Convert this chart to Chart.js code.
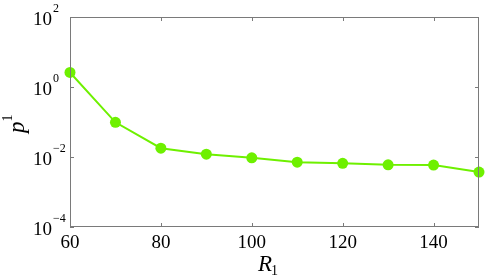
<!DOCTYPE html>
<html>
<head>
<meta charset="utf-8">
<script src="https://cdn.jsdelivr.net/npm/chart.js@4/dist/chart.umd.min.js"></script>
<style>
  html, body { margin: 0; padding: 0; background: #fff; }
  #wrap { width: 485px; height: 277px; }
</style>
</head>
<body>
<div id="wrap"><canvas id="c"></canvas></div>
<script>
// data
const r1Values = [60, 70, 80, 90, 100, 110, 120, 130, 140, 150];
const p1Values = [2.6, 0.098, 0.0178, 0.012, 0.0095, 0.0071, 0.0066, 0.0060, 0.0059, 0.0037];
const xTicks = [60, 80, 100, 120, 140];
const yTicks = [1e2, 1e0, 1e-2, 1e-4];
const yExponents = ['2', '0', '\u22122', '\u22124'];

const green = '#6ef000';
const frame = '#7a7a7a';
const serif = "'Liberation Serif', 'DejaVu Serif', serif";

const matlabAxes = {
  id: 'matlabAxes',
  afterDraw(chart) {
    const ctx = chart.ctx;
    const a = chart.chartArea;
    const xs = chart.scales.x, ys = chart.scales.y;
    ctx.save();
    // box
    ctx.strokeStyle = frame;
    ctx.lineWidth = 1;
    ctx.strokeRect(a.left + 0.5, a.top + 0.5, a.right - a.left - 1, a.bottom - a.top - 1);
    // inward ticks
    ctx.beginPath();
    xTicks.forEach(v => {
      const px = Math.round(xs.getPixelForValue(v)) + 0.5;
      ctx.moveTo(px, a.bottom); ctx.lineTo(px, a.bottom - 4);
      ctx.moveTo(px, a.top); ctx.lineTo(px, a.top + 4);
    });
    yTicks.forEach(v => {
      const py = Math.round(ys.getPixelForValue(v)) + 0.5;
      ctx.moveTo(a.left, py); ctx.lineTo(a.left + 4, py);
      ctx.moveTo(a.right, py); ctx.lineTo(a.right - 4, py);
    });
    ctx.stroke();

    ctx.fillStyle = '#000';
    // x tick labels
    ctx.font = '19px ' + serif;
    ctx.textAlign = 'center';
    ctx.textBaseline = 'alphabetic';
    xTicks.forEach(v => {
      ctx.fillText(String(v), xs.getPixelForValue(v), a.bottom + 21);
    });
    // y tick labels 10^k
    yTicks.forEach((v, i) => {
      const py = ys.getPixelForValue(v);
      ctx.font = '19px ' + serif;
      ctx.textAlign = 'right';
      ctx.fillText('10', 52, py + 8);
      ctx.font = '12px ' + serif;
      ctx.textAlign = 'left';
      ctx.fillText(yExponents[i], 53, py - 5);
    });
    // x label R_1
    ctx.textAlign = 'left';
    ctx.font = 'italic 23px ' + serif;
    ctx.fillText('R', 258, 271);
    const rw = ctx.measureText('R').width;
    ctx.font = '14px ' + serif;
    ctx.fillText('1', 258 + rw - 1, 275);
    // y label p^1
    ctx.translate(24, 133);
    ctx.rotate(-Math.PI / 2);
    ctx.font = 'italic 23px ' + serif;
    ctx.fillText('p', 0, 0);
    const pw = ctx.measureText('p').width;
    ctx.font = '14px ' + serif;
    ctx.fillText('1', pw, -12);
    ctx.restore();
  }
};

new Chart(document.getElementById('c'), {
  type: 'line',
  data: {
    datasets: [{
      data: r1Values.map((x, i) => ({ x: x, y: p1Values[i] })),
      borderColor: green,
      backgroundColor: green,
      borderWidth: 2,
      pointRadius: 5.5,
      pointBorderWidth: 0,
      pointBackgroundColor: green,
      tension: 0,
      clip: false
    }]
  },
  options: {
    responsive: true,
    maintainAspectRatio: false,
    animation: false,
    layout: { padding: { top: 17, right: 6, left: 0, bottom: 0 } },
    plugins: { legend: { display: false }, tooltip: { enabled: false } },
    scales: {
      x: {
        type: 'linear', min: 60, max: 150,
        grid: { display: false }, border: { display: false },
        ticks: { display: false },
        afterFit(s) { s.height = 50; }
      },
      y: {
        type: 'logarithmic', min: 1e-4, max: 1e2,
        grid: { display: false }, border: { display: false },
        ticks: { display: false },
        afterFit(s) { s.width = 70; }
      }
    }
  },
  plugins: [matlabAxes]
});
</script>
</body>
</html>
